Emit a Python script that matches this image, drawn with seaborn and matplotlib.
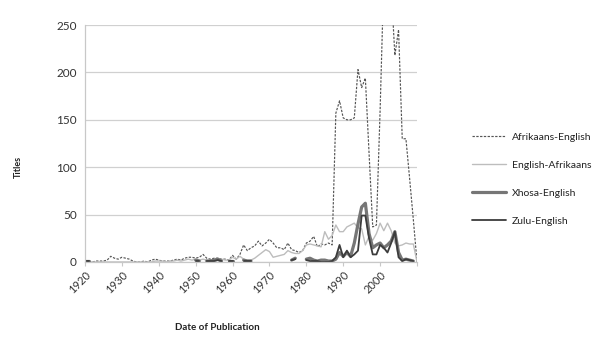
import numpy as np
import pandas as pd
import matplotlib
matplotlib.use("Agg")
import matplotlib.pyplot as plt
from matplotlib.lines import Line2D
import seaborn as sns

nan = np.nan
years = list(range(1920, 2011))

afrikaans_english = [
    1, 1, 0, 1, 1, 1, 2, 6, 4, 3,          # 1920-1929
    5, 4, 3, 1, 0, 0, 1, 0, 2, 3,          # 1930-1939
    2, 1, 1, 1, 2, 3, 2, 4, 5, 5,          # 1940-1949
    4, 5, 8, 4, 3, 4, 4, 3, 3, 2,          # 1950-1959
    7, 3, 8, 18, 12, 15, 17, 22, 17, 20,   # 1960-1969
    24, 20, 15, 15, 13, 20, 13, 12, 10, 12,  # 1970-1979
    20, 22, 27, 16, 19, 18, 20, 18, 157, 170,  # 1980-1989
    152, 150, 150, 152, 203, 184, 194, 115, 37, 39,  # 1990-1999
    160, 300, 320, 290, 218, 245, 130, 130, 88, 45,  # 2000-2009
    0,                                      # 2010
]

english_afrikaans = [
    0, 0, 0, 0, 0, 0, 0, 0, 0, 0,
    0, 0, 0, 0, 0, 0, 0, 0, 0, 1,
    1, 1, 0, 1, 1, 2, 1, 2, 3, 2,
    3, 2, 3, 2, 1, 2, 2, 3, 2, 2,
    5, 3, 6, 3, 2, 2, 4, 7, 10, 13,
    11, 5, 6, 7, 8, 12, 10, 9, 9, 12,
    18, 19, 18, 17, 16, 32, 24, 28, 39, 32,
    32, 37, 39, 41, 36, 35, 18, 27, 23, 30,
    41, 33, 41, 33, 20, 17, 18, 20, 19, 19,
    0,
]

xhosa_english = [
    1, 1, nan, nan, nan, nan, nan, 1, nan, nan,
    nan, nan, nan, nan, nan, nan, nan, nan, nan, nan,
    nan, nan, nan, nan, nan, nan, nan, nan, nan, nan,
    2, 1, nan, 1, 1, 2, 3, 1, nan, 1,
    1, nan, nan, 2, 1, 1, nan, nan, nan, nan,
    nan, nan, nan, nan, nan, nan, 2, 4, nan, nan,
    3, 4, 2, 1, 2, 2, 1, 1, 3, 10,
    6, 10, 6, 20, 40, 58, 62, 30, 15, 18,
    20, 15, 18, 22, 32, 10, 2, 3, 2, 1,
    nan,
]

zulu_english = [
    1, 1, nan, nan, nan, nan, nan, 1, nan, nan,
    nan, nan, nan, nan, nan, nan, nan, nan, nan, nan,
    nan, nan, nan, nan, nan, nan, nan, nan, nan, nan,
    1, 1, nan, 1, 1, 1, 2, 1, nan, 1,
    1, nan, nan, 1, 1, 1, nan, nan, nan, nan,
    nan, nan, nan, nan, nan, nan, 2, 3, nan, nan,
    2, 1, 1, 1, 0, 0, 0, 1, 5, 18,
    5, 12, 5, 8, 12, 49, 49, 25, 8, 8,
    18, 15, 10, 20, 32, 5, 1, 3, 2, 1,
    nan,
]

series_names = ["Afrikaans-English", "English-Afrikaans", "Xhosa-English", "Zulu-English"]
series_values = [afrikaans_english, english_afrikaans, xhosa_english, zulu_english]
xtick_years = list(range(1920, 2011, 10))
xtick_labels = [str(y) for y in range(1920, 2001, 10)] + [""]

styles = {
    "Afrikaans-English": dict(color="#555555", lw=0.85, ls=(0, (2.0, 1.2))),
    "English-Afrikaans": dict(color="#bdbdbd", lw=1.0, ls="-"),
    "Xhosa-English": dict(color="#767676", lw=2.3, ls="-"),
    "Zulu-English": dict(color="#3c3c3c", lw=1.3, ls="-"),
}

sns.set_style("white")
plt.rcParams["font.family"] = ["Lato", "DejaVu Sans"]

fig = plt.figure(figsize=(6.0, 3.48), dpi=100)
ax = fig.add_axes([85 / 600, 1 - 262 / 348, (417 - 85) / 600, (262 - 25) / 348])

for name, vals in zip(series_names, series_values):
    df = pd.DataFrame({"year": years, "titles": vals})
    df["seg"] = df["titles"].isna().cumsum()
    df = df.dropna()
    st = styles[name]
    sns.lineplot(data=df, x="year", y="titles", units="seg", estimator=None,
                 ax=ax, color=st["color"], linewidth=st["lw"], linestyle=st["ls"],
                 legend=False)

ax.set_xlim(1920, 2010)
ax.set_ylim(0, 250)
ax.set_yticks([0, 50, 100, 150, 200, 250])
ax.set_xticks(xtick_years)
ax.set_xticklabels(xtick_labels, rotation=45, ha="right", rotation_mode="anchor")
ax.grid(axis="y", color="#d0d0d0", lw=0.9)
ax.grid(axis="x", visible=False)
for s in ["top", "right"]:
    ax.spines[s].set_visible(False)
for s in ["left", "bottom"]:
    ax.spines[s].set_color("#c8c8c8")
    ax.spines[s].set_linewidth(0.9)
ax.tick_params(axis="x", which="major", length=3, color="#c8c8c8", labelsize=8,
               labelcolor="#333333", pad=2, bottom=True)
ax.tick_params(axis="y", length=0, labelsize=8.5, labelcolor="#333333", pad=6)
ax.set_xlabel("")
ax.set_ylabel("")

fig.text(18 / 600, 1 - 167 / 348, "Titles", rotation=90, fontsize=6.5,
         fontweight="bold", ha="center", va="center", color="#222222")
fig.text(217 / 600, 1 - 328 / 348, "Date of Publication", fontsize=7,
         fontweight="bold", ha="center", va="center", color="#222222")

handles = [Line2D([0], [0], color=styles[n]["color"], lw=styles[n]["lw"],
                  ls=styles[n]["ls"]) for n in series_names]
fig.legend(handles, series_names, loc="upper left",
           bbox_to_anchor=(463 / 600, 1 - 123 / 348), frameon=False,
           fontsize=7.5, labelspacing=1.8, handlelength=3.2, handletextpad=0.6,
           labelcolor="#222222")

fig.savefig("out.png", dpi=100, facecolor="white")
